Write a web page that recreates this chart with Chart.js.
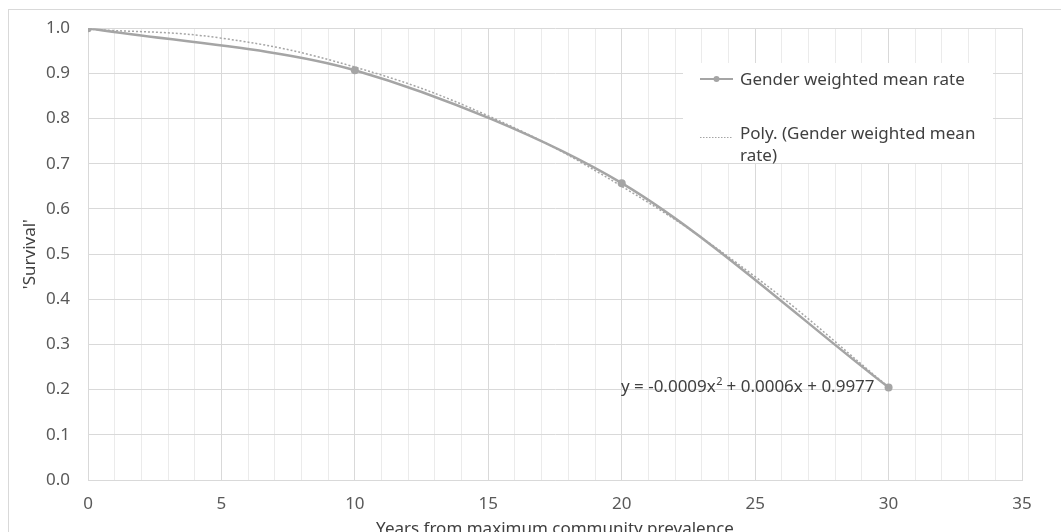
<!doctype html>
<html lang="en">
<head>
  <meta charset="utf-8">
  <title>Survival</title>
  <script src="https://cdn.jsdelivr.net/npm/chart.js"></script>
  <style>
    html, body { margin: 0; padding: 0; background: #fff; overflow: hidden; }
    #wrap { width: 1061px; height: 532px; overflow: hidden; }
  </style>
</head>
<body>
  <div id="wrap">
    <canvas id="chart" width="1061" height="545"></canvas>
  </div>
  <script>
    // values
    var years = [0, 10, 20, 30];
    var survival = [1.0, 0.907, 0.657, 0.205];
    var trendYears = [0, 5, 10, 15, 20, 25, 30];
    var trendValues = [0.998, 0.978, 0.914, 0.806, 0.650, 0.450, 0.206];
    var seriesName = 'Gender weighted mean rate';
    var trendName = ['Poly. (Gender weighted mean', 'rate)'];
    var equation = ['y = -0.0009x', '2', ' + 0.0006x + 0.9977'];

    var grey = '#a5a5a5';
    var textCol = '#404040';
    var tickCol = '#595959';
    var fontFam = '"Noto Sans", "Open Sans", sans-serif';
    var fs = 17;

    function pts(xs, ys) {
      return xs.map(function(x, i){ return { x: x, y: ys[i] }; });
    }

    var frame = {
      id: 'frame',
      beforeDraw: function(chart) {
        var ctx = chart.ctx;
        ctx.save();
        ctx.strokeStyle = '#d9d9d9';
        ctx.lineWidth = 1;
        ctx.strokeRect(8.5, 9.5, 1200, 800);
        ctx.restore();
      },
      afterDraw: function(chart) {
        var ctx = chart.ctx;
        var xs = chart.scales.x, ys = chart.scales.y;
        ctx.save();

        // legend box
        ctx.fillStyle = '#fff';
        ctx.fillRect(683, 63, 310, 100);
        ctx.font = fs + 'px ' + fontFam;
        ctx.textBaseline = 'middle';

        ctx.strokeStyle = grey;
        ctx.lineWidth = 2;
        ctx.beginPath();
        ctx.moveTo(700, 79); ctx.lineTo(733, 79);
        ctx.stroke();
        ctx.fillStyle = grey;
        ctx.beginPath();
        ctx.arc(716.5, 79, 3, 0, Math.PI * 2);
        ctx.fill();
        ctx.fillStyle = textCol;
        ctx.fillText(seriesName, 740, 80);

        ctx.lineWidth = 1;
        ctx.setLineDash([1.5, 1.5]);
        ctx.beginPath();
        ctx.moveTo(700, 137.5); ctx.lineTo(733, 137.5);
        ctx.stroke();
        ctx.setLineDash([]);
        ctx.fillText(trendName[0], 740, 134);
        ctx.fillText(trendName[1], 740, 156);

        // trendline equation
        var ex = xs.getPixelForValue(30) - 14;
        var ey = ys.getPixelForValue(0.206);
        var fMain = fs + 'px ' + fontFam, fSup = '11px ' + fontFam;
        ctx.font = fMain;
        var w1 = ctx.measureText(equation[0]).width;
        var w3 = ctx.measureText(equation[2]).width;
        ctx.font = fSup;
        var w2 = ctx.measureText(equation[1]).width;
        var x0 = ex - (w1 + w2 + w3);
        ctx.textAlign = 'left';
        ctx.font = fMain;
        ctx.fillText(equation[0], x0, ey);
        ctx.font = fSup;
        ctx.fillText(equation[1], x0 + w1 + 0.5, ey - 5);
        ctx.font = fMain;
        ctx.fillText(equation[2], x0 + w1 + w2, ey);
        ctx.restore();
      }
    };

    var ctx = document.getElementById('chart').getContext('2d');
    new Chart(ctx, {
      type: 'line',
      data: {
        datasets: [{
          label: trendName.join(' '),
          data: pts(trendYears, trendValues),
          borderColor: grey,
          borderWidth: 1.5,
          borderDash: [2, 2],
          pointRadius: 0,
          tension: 0.4,
          fill: false
        }, {
          label: seriesName,
          data: pts(years, survival),
          borderColor: grey,
          backgroundColor: grey,
          borderWidth: 2.5,
          pointRadius: 4,
          pointBorderWidth: 0,
          tension: 0.3,
          fill: false
        }]
      },
      options: {
        responsive: false,
        animation: false,
        layout: { padding: { left: 10, top: 28, right: 39, bottom: 0 } },
        plugins: { legend: { display: false }, tooltip: { enabled: false } },
        scales: {
          x: {
            type: 'linear',
            min: 0, max: 35,
            afterFit: function(s){ s.height = 65; },
            ticks: {
              stepSize: 1,
              autoSkip: false,
              maxRotation: 0,
              padding: 14,
              color: tickCol,
              font: { family: fontFam, size: fs },
              callback: function(v){ return v % 5 === 0 ? String(v) : ''; }
            },
            grid: {
              drawTicks: false,
              color: function(c){ return c.tick && c.tick.value % 5 === 0 ? '#d9d9d9' : '#ebebeb'; }
            },
            border: { color: '#d9d9d9' },
            title: {
              display: true,
              text: 'Years from maximum community prevalence',
              color: textCol,
              font: { family: fontFam, size: fs },
              padding: { top: 0, bottom: 6 }
            }
          },
          y: {
            min: 0, max: 1,
            afterFit: function(s){ s.width = 78; },
            ticks: {
              stepSize: 0.1,
              padding: 18,
              color: tickCol,
              font: { family: fontFam, size: fs },
              callback: function(v){ return v.toFixed(1); }
            },
            grid: { drawTicks: false, color: '#d9d9d9' },
            border: { color: '#d9d9d9' },
            title: {
              display: true,
              text: "'Survival'",
              color: textCol,
              font: { family: fontFam, size: fs },
              padding: { top: 10, bottom: 0 }
            }
          }
        }
      },
      plugins: [frame]
    });
  </script>
</body>
</html>
